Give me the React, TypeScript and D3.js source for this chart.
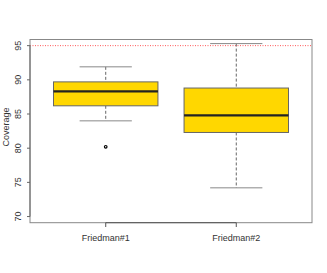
import * as d3 from 'd3';
import React from 'react';

// box statistics
const groups = ['Friedman#1', 'Friedman#2'];
const lowerWhisker = [84.0, 74.2];
const q1 = [86.2, 82.3];
const medians = [88.3, 84.8];
const q3 = [89.7, 88.8];
const upperWhisker = [91.9, 95.3];
const outliers = [[80.2], []];
const yTicks = [70, 75, 80, 85, 90, 95];
const target = 95;

const width = 327;
const height = 273;

export default function App() {
  const x = d3.scaleLinear().domain([0.42, 2.58]).range([30, 312]);
  const y = d3.scaleLinear().domain([69.1, 95.9]).range([222.7, 39.5]);
  const boxW = x(0.8) - x(0);
  const capW = boxW / 2;
  const font = '"Liberation Sans Narrow", "Liberation Sans", Arial, sans-serif';

  return (
    <svg width={width} height={height} style={{ position: 'absolute', left: 0, top: 0, background: '#fff' }}>
      {/* target line */}
      <line x1={x(0.42)} x2={x(2.58)} y1={y(target)} y2={y(target)}
        stroke="#ff5555" strokeWidth={1} strokeDasharray="1,1.5" />

      {groups.map((g, i) => {
        const cx = x(i + 1);
        return (
          <g key={g}>
            <line x1={cx} x2={cx} y1={y(upperWhisker[i])} y2={y(q3[i])} stroke="#666" strokeDasharray="3,2" />
            <line x1={cx} x2={cx} y1={y(q1[i])} y2={y(lowerWhisker[i])} stroke="#666" strokeDasharray="3,2" />
            <line x1={cx - capW / 2} x2={cx + capW / 2} y1={y(upperWhisker[i])} y2={y(upperWhisker[i])} stroke="#888" />
            <line x1={cx - capW / 2} x2={cx + capW / 2} y1={y(lowerWhisker[i])} y2={y(lowerWhisker[i])} stroke="#888" />
            <rect x={cx - boxW / 2} y={y(q3[i])} width={boxW} height={y(q1[i]) - y(q3[i])}
              fill="#FFD700" stroke="#666" strokeWidth={1} />
            <line x1={cx - boxW / 2} x2={cx + boxW / 2} y1={y(medians[i])} y2={y(medians[i])} stroke="#222" strokeWidth={2.2} />
            {outliers[i].map((o, j) => (
              <circle key={j} cx={cx} cy={y(o)} r={1.3} fill="none" stroke="#000" strokeWidth={1.2} />
            ))}
          </g>
        );
      })}

      {/* frame */}
      <rect x={x(0.42)} y={y(95.9)} width={x(2.58) - x(0.42)} height={y(69.1) - y(95.9)}
        fill="none" stroke="#888" strokeWidth={1} />

      {/* y axis */}
      <line x1={30} x2={30} y1={y(70)} y2={y(95)} stroke="#666" />
      {yTicks.map(t => (
        <g key={t}>
          <line x1={27} x2={30} y1={y(t)} y2={y(t)} stroke="#666" />
          <text transform={`translate(21,${y(t)}) rotate(-90)`} textAnchor="middle"
            fontFamily={font} fontSize={9} fill="#333">{t}</text>
        </g>
      ))}
      <text transform={`translate(9,${(y(69.1) + y(95.9)) / 2 - 4}) rotate(-90)`} textAnchor="middle"
        fontFamily='"Liberation Sans", Arial, sans-serif' fontSize={9} fill="#333">Coverage</text>

      {/* x axis */}
      <line x1={x(1)} x2={x(2)} y1={222.7} y2={222.7} stroke="#555" />
      {groups.map((g, i) => (
        <g key={g}>
          <line x1={x(i + 1)} x2={x(i + 1)} y1={222.7} y2={227} stroke="#555" />
          <text x={x(i + 1)} y={241} textAnchor="middle" fontFamily={font} fontSize={9} fill="#333">{g}</text>
        </g>
      ))}
    </svg>
  );
}
